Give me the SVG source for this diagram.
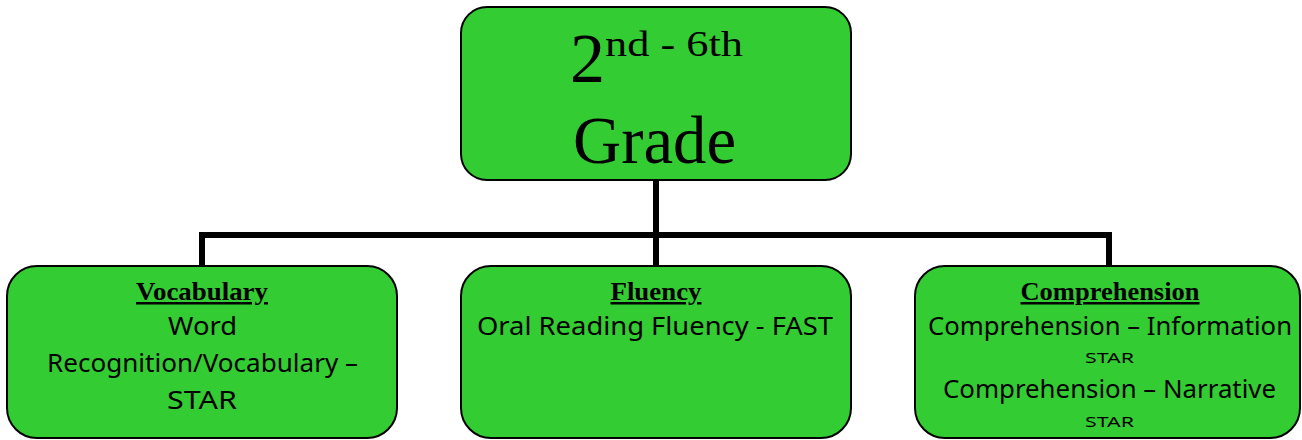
<svg xmlns="http://www.w3.org/2000/svg" width="1302" height="440" viewBox="0 0 1302 440">
<style>
.box{fill:#33CC33;stroke:#000;stroke-width:2}
.conn{fill:none;stroke:#000;stroke-width:6;stroke-linecap:square}
.head{font-family:"Liberation Serif",serif;font-weight:bold;font-size:25px;text-decoration:underline;text-anchor:middle;fill:#000}
.body{font-family:"Noto Sans","DejaVu Sans",sans-serif;font-size:25px;fill:#000}
.small{font-family:"Noto Sans","DejaVu Sans",sans-serif;font-size:15px;fill:#000}
.title{font-family:"Liberation Serif",serif;fill:#000}
</style>
<rect width="1302" height="440" fill="#fff"/>
<g id="connectors">
<path class="conn" d="M656 181 V235 M202 235 H1109 M202 235 V266 M656 235 V266 M1109 235 V266"/>
</g>
<g id="top">
<rect class="box" x="461" y="7" width="390" height="173" rx="26"/>
<text class="title" x="570" y="82" font-size="70">2</text>
<text class="title" x="605" y="56" font-size="36" textLength="138" lengthAdjust="spacingAndGlyphs">nd - 6th</text>
<text class="title" x="573" y="163" font-size="68" textLength="163" lengthAdjust="spacingAndGlyphs">Grade</text>
</g>
<g id="vocabulary">
<rect class="box" x="7" y="266" width="390" height="172" rx="30"/>
<text class="head" x="202" y="300" textLength="132" lengthAdjust="spacingAndGlyphs">Vocabulary</text>
<text class="body" x="168" y="335" textLength="69" lengthAdjust="spacingAndGlyphs">Word</text>
<text class="body" x="47" y="372" textLength="311" lengthAdjust="spacingAndGlyphs">Recognition/Vocabulary –</text>
<text class="body" x="167" y="409" textLength="70" lengthAdjust="spacingAndGlyphs">STAR</text>
</g>
<g id="fluency">
<rect class="box" x="461" y="266" width="390" height="172" rx="30"/>
<text class="head" x="656" y="300" textLength="91" lengthAdjust="spacingAndGlyphs">Fluency</text>
<text class="body" x="477" y="335" textLength="356" lengthAdjust="spacingAndGlyphs">Oral Reading Fluency - FAST</text>
</g>
<g id="comprehension">
<rect class="box" x="915" y="266" width="385" height="172" rx="30"/>
<text class="head" x="1110" y="300" textLength="179" lengthAdjust="spacingAndGlyphs">Comprehension</text>
<text class="body" x="928" y="335" textLength="364" lengthAdjust="spacingAndGlyphs">Comprehension – Information</text>
<text class="small" x="1085" y="363" textLength="49" lengthAdjust="spacingAndGlyphs">STAR</text>
<text class="body" x="943" y="398" textLength="333" lengthAdjust="spacingAndGlyphs">Comprehension – Narrative</text>
<text class="small" x="1085" y="427" textLength="49" lengthAdjust="spacingAndGlyphs">STAR</text>
</g>
</svg>
